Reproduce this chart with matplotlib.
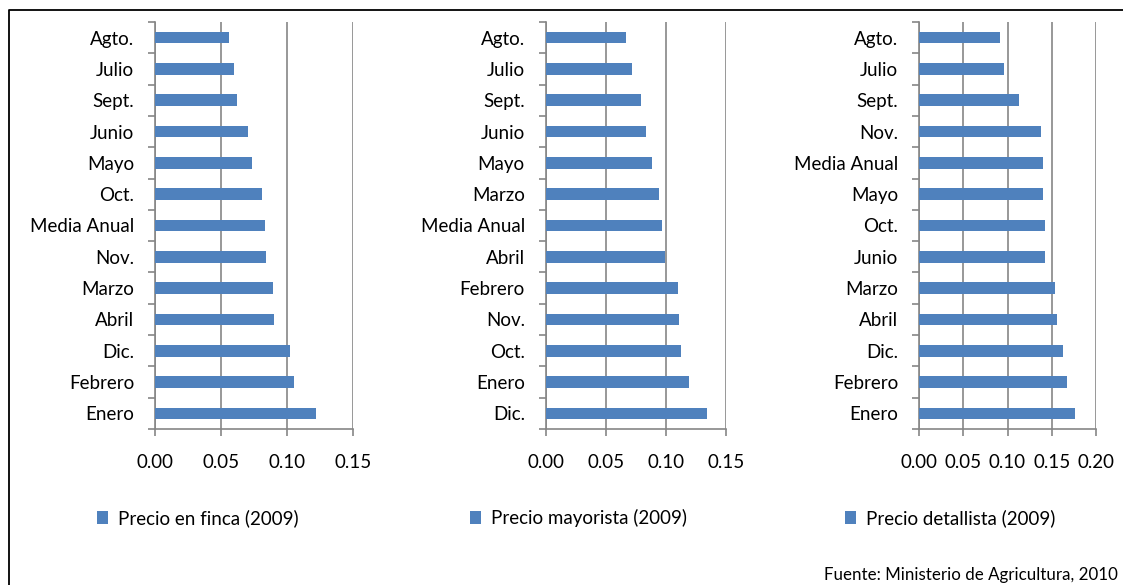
import numpy as np
import matplotlib
matplotlib.use("Agg")
import matplotlib.pyplot as plt
from matplotlib.lines import Line2D
from matplotlib.ticker import FixedLocator

plt.rcParams['font.family'] = ['Lato', 'DejaVu Sans']

# Data (top to bottom as shown)
finca_labels = ["Agto.", "Julio", "Sept.", "Junio", "Mayo", "Oct.", "Media Anual",
                "Nov.", "Marzo", "Abril", "Dic.", "Febrero", "Enero"]
finca_values = [0.056, 0.060, 0.062, 0.070, 0.073, 0.081, 0.083,
                0.084, 0.089, 0.090, 0.102, 0.105, 0.122]

mayor_labels = ["Agto.", "Julio", "Sept.", "Junio", "Mayo", "Marzo", "Media Anual",
                "Abril", "Febrero", "Nov.", "Oct.", "Enero", "Dic."]
mayor_values = [0.067, 0.072, 0.079, 0.083, 0.088, 0.094, 0.097,
                0.099, 0.110, 0.111, 0.112, 0.119, 0.134]

detal_labels = ["Agto.", "Julio", "Sept.", "Nov.", "Media Anual", "Mayo", "Oct.",
                "Junio", "Marzo", "Abril", "Dic.", "Febrero", "Enero"]
detal_values = [0.091, 0.096, 0.113, 0.138, 0.140, 0.140, 0.142,
                0.142, 0.154, 0.156, 0.163, 0.167, 0.176]

series_names = ["Precio en finca (2009)", "Precio mayorista (2009)", "Precio detallista (2009)"]
x_ticks = [[0.0, 0.05, 0.10, 0.15], [0.0, 0.05, 0.10, 0.15], [0.0, 0.05, 0.10, 0.15, 0.20]]

W, H = 1123, 585
BAR = "#4F81BD"
GRID = "#868686"
FS = 13.5

fig = plt.figure(figsize=(W / 100, H / 100), dpi=100)

# pixel extents of each plot area (left, right) and shared top/bottom
panels = [(155, 353.3), (545.7, 726.3), (919, 1096)]
top_px, bot_px = 22, 429
legend_x = [97, 470, 845]

datasets = [(finca_labels, finca_values), (mayor_labels, mayor_values), (detal_labels, detal_values)]

for i, ((lab, val), (x0, x1)) in enumerate(zip(datasets, panels)):
    ax = fig.add_axes([x0 / W, 1 - bot_px / H, (x1 - x0) / W, (bot_px - top_px) / H])
    n = len(lab)
    y = np.arange(n)
    bars = ax.barh(y, val, height=0.37, color=BAR, zorder=3, label=series_names[i])
    ax.set_ylim(n - 0.5, -0.5)
    ax.set_xlim(0, x_ticks[i][-1])
    ax.set_yticks(y)
    ax.set_yticklabels(lab, fontsize=FS)
    ax.yaxis.set_minor_locator(FixedLocator(np.arange(-0.5, n, 1.0)))
    ax.tick_params(axis='y', which='major', length=0, pad=15)
    ax.tick_params(axis='y', which='minor', length=5, width=1.2, color=GRID, direction='out')
    ax.set_xticks(x_ticks[i])
    ax.set_xticklabels([f"{t:.2f}" for t in x_ticks[i]], fontsize=FS)
    ax.tick_params(axis='x', length=5, width=1.2, color=GRID, pad=13)
    ax.grid(axis='x', color=GRID, linewidth=1.2, zorder=0)
    for s in ['top', 'right']:
        ax.spines[s].set_visible(False)
    for s in ['left', 'bottom']:
        ax.spines[s].set_color(GRID)
        ax.spines[s].set_linewidth(1.2)
    ax.legend(handles=[bars], loc='center left', bbox_to_anchor=(legend_x[i] / W, 1 - 518 / H),
              bbox_transform=fig.transFigure, frameon=False, fontsize=FS,
              handlelength=0.6, handleheight=0.7, handletextpad=0.5, borderpad=0, borderaxespad=0)

fig.text(1118 / W, 1 - 575 / H, "Fuente: Ministerio de Agricultura, 2010",
         ha='right', va='center', fontsize=12.2)

# outer frame (left and top edges)
fig.add_artist(Line2D([9 / W, 9 / W, 1.0], [0.0, 1 - 10 / H, 1 - 10 / H],
                      transform=fig.transFigure, color='black', linewidth=1.3))

fig.savefig("out.png", dpi=100)
